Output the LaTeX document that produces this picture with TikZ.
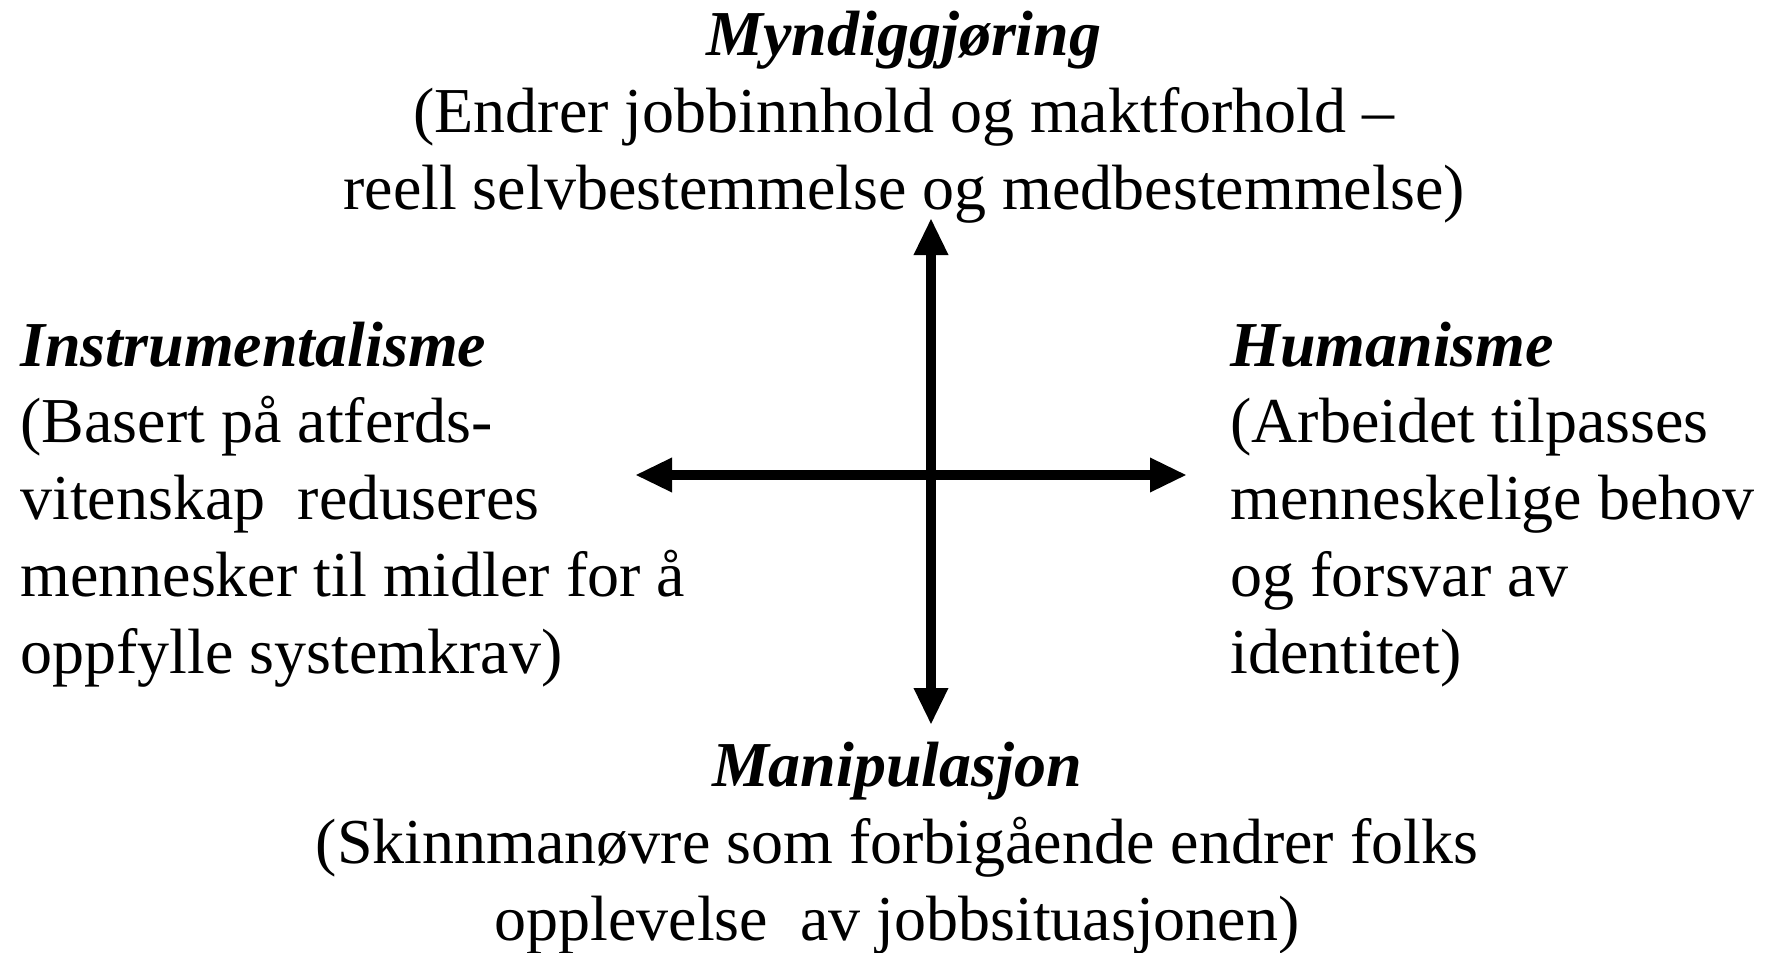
\documentclass[tikz,border=0pt]{standalone}
\usepackage{fontspec}
\setmainfont{Liberation Serif}
\usetikzlibrary{arrows.meta}
\tikzset{
  txt/.style={inner sep=0pt, font=\fontsize{32}{38.35}\selectfont},
  axis/.style={line width=5pt, {Triangle[length=18.5pt,width=16pt]}-{Triangle[length=18.5pt,width=16pt]}}
}
\begin{document}
\begin{tikzpicture}[x=0.5pt,y=-0.5pt]
\useasboundingbox (0,0) rectangle (1769,953);
\coordinate (top) at (931,218);
\coordinate (bottom) at (931,725);
\coordinate (left) at (635,475);
\coordinate (right) at (1187,475);
\draw[axis] (bottom) -- (top);
\draw[axis] (left) -- (right);
\node[txt, align=center, anchor=base] (myn) at (904,209) {\textbf{\textit{Myndiggjøring}}\\(Endrer jobbinnhold og maktforhold –\\reell selvbestemmelse og medbestemmelse)};
\node[txt, align=left, anchor=base west] (ins) at (20,673) {\textbf{\textit{Instrumentalisme}}\\(Basert på atferds-\\vitenskap\ \ reduseres\\mennesker til midler for å\\oppfylle systemkrav)};
\node[txt, align=left, anchor=base west] (hum) at (1230,673) {\textbf{\textit{Humanisme}}\\(Arbeidet tilpasses\\menneskelige behov\\og forsvar av\\identitet)};
\node[txt, align=center, anchor=base] (man) at (897,940) {\textbf{\textit{Manipulasjon}}\\(Skinnmanøvre som forbigående endrer folks\\opplevelse\ \ av jobbsituasjonen)};
\end{tikzpicture}
\end{document}
